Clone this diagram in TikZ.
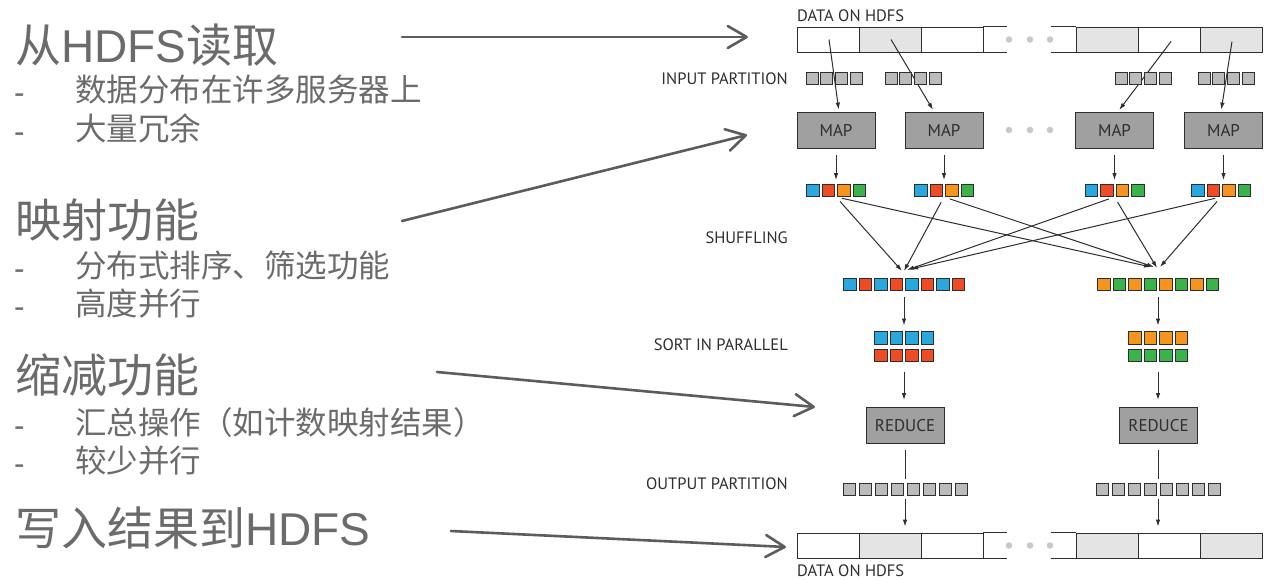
\documentclass[tikz,border=0pt]{standalone}
\usepackage{fontspec}
\setmainfont{Liberation Sans}
\newfontfamily\cjk{Noto Sans CJK SC}
\newfontfamily\diagfont{PT Sans}
\usetikzlibrary{arrows.meta}

\definecolor{leftgray}{HTML}{6B6B6B}
\definecolor{pointergray}{HTML}{5C5C5C}
\definecolor{ink}{HTML}{2E2E2E}
\definecolor{blockgray}{HTML}{E4E4E4}
\definecolor{taskgray}{HTML}{A0A0A0}
\definecolor{partgray}{HTML}{BBBBBB}
\definecolor{dotgray}{HTML}{C8C8C8}
\definecolor{kblue}{HTML}{29A8E0}
\definecolor{kred}{HTML}{EF4B24}
\definecolor{korange}{HTML}{F7941D}
\definecolor{kgreen}{HTML}{3AB34A}

\tikzset{
  heading/.style={anchor=base west, inner sep=0pt, text=leftgray,
    font=\fontsize{46}{46}\selectfont},
  bulletmark/.style={anchor=base west, inner sep=0pt, text=leftgray,
    font=\fontsize{31.5}{32}\selectfont},
  bullettext/.style={anchor=base west, inner sep=0pt, text=leftgray,
    font=\cjk\fontsize{31.5}{32}\selectfont},
  caption/.style={inner sep=0pt, text=ink, font=\diagfont\fontsize{16.5}{16.5}\selectfont},
  block/.style={draw=ink, line width=0.9pt, minimum width=62pt, minimum height=25pt, inner sep=0pt},
  task/.style={draw=ink, line width=0.9pt, fill=taskgray, minimum width=78pt, minimum height=36pt,
    inner sep=0pt, text=ink, font=\diagfont\fontsize{17}{17}\selectfont},
  cell/.style={draw=ink, line width=0.7pt, minimum size=12.5pt, inner sep=0pt},
  cellrow/.style={minimum height=12.5pt, inner sep=0pt},
  smallarrow/.style={draw=ink, line width=1pt, -{Latex[length=7pt,width=4.5pt]}},
  plainlink/.style={draw=ink, line width=1pt},
  bigarrow/.style={draw=pointergray, line width=2.6pt, line cap=round,
    -{Straight Barb[length=19pt,width=22pt,round]}},
  gapdot/.style={circle, fill=dotgray, minimum size=6.5pt, inner sep=0pt},
}

\begin{document}
\begin{tikzpicture}[x=1pt, y=-1pt]
\fill[white] (0,0) rectangle (1272,579);
\path[use as bounding box] (0,0) rectangle (1272,579);

% ---------------- left-hand outline ----------------
\node[heading] (h1) at (15,62) {{\cjk 从}HDFS{\cjk 读取}};
\node[bulletmark] (d11) at (14,103) {-};
\node[bullettext] (i11) at (75,101) {数据分布在许多服务器上};
\node[bulletmark] (d12) at (14,142) {-};
\node[bullettext] (i12) at (75,140) {大量冗余};

\node[heading] (h2) at (15,237) {\cjk 映射功能};
\node[bulletmark] (d21) at (14,279) {-};
\node[bullettext] (i21) at (75,277) {分布式排序、筛选功能};
\node[bulletmark] (d22) at (14,317) {-};
\node[bullettext] (i22) at (75,315) {高度并行};

\node[heading] (h3) at (15,392) {\cjk 缩减功能};
\node[bulletmark] (d31) at (14,436) {-};
\node[bullettext] (i31) at (75,434) {汇总操作（如计数映射结果）};
\node[bulletmark] (d32) at (14,474) {-};
\node[bullettext] (i32) at (75,472) {较少并行};

\node[heading] (h4) at (15,545) {{\cjk 写入结果到}HDFS};

% ---------------- HDFS bars (top and bottom) ----------------
\foreach \pre/\yc in {t/39.5, b/545.5} {
  \node[block] (\pre1) at (828,\yc) {};
  \node[block, fill=blockgray] (\pre2) at (890,\yc) {};
  \node[block] (\pre3) at (952,\yc) {};
  \node[block, fill=blockgray] (\pre5) at (1107,\yc) {};
  \node[block] (\pre6) at (1169,\yc) {};
  \node[block, fill=blockgray] (\pre7) at (1231,\yc) {};
  \draw[ink, line width=0.9pt]
    (\pre3.north east) -- ++(24,0) (\pre3.south east) -- ++(24,0)
    (\pre5.north west) -- ++(-25,0) (\pre5.south west) -- ++(-25,0);
  \foreach \k/\dx in {1/1009, 2/1030, 3/1050}
    \node[gapdot] (\pre-gap\k) at (\dx,\yc) {};
}

% ---------------- captions ----------------
\node[caption, anchor=west] (ctop) at (797,16) {DATA ON HDFS};
\node[caption, anchor=east] (cin) at (788,79) {INPUT PARTITION};
\node[caption, anchor=east] (cshuf) at (788,238) {SHUFFLING};
\node[caption, anchor=east] (csort) at (788,345) {SORT IN PARALLEL};
\node[caption, anchor=east] (cout) at (788,484) {OUTPUT PARTITION};
\node[caption, anchor=west] (cbot) at (797,571) {DATA ON HDFS};

% ---------------- map tasks ----------------
\node[task] (m1) at (836,130) {MAP};
\node[task] (m2) at (944,130) {MAP};
\node[task] (m3) at (1114.5,130) {MAP};
\node[task] (m4) at (1223.5,130) {MAP};
\foreach \k/\dx in {1/1009, 2/1030, 3/1050}
  \node[gapdot] (m-gap\k) at (\dx,130) {};

% blocks read into the map tasks
\draw[smallarrow, shorten >=2pt] ([xshift=1pt]t1.center) -- ([xshift=3pt]m1.north);
\draw[smallarrow, shorten >=2pt] ([xshift=1pt]t2.center) -- ([xshift=-10pt]m2.north);
\draw[smallarrow, shorten >=2pt] ([xshift=2pt,yshift=-2pt]t6.center) -- ([xshift=3.5pt]m3.north);
\draw[smallarrow, shorten >=2pt] ([xshift=1pt,yshift=-2pt]t7.center) -- ([xshift=-2.5pt]m4.north);

% input partitions
\foreach \g/\cx in {1/834, 2/913, 3/1143, 4/1226} {
  \node[cellrow, minimum width=56pt] (ip\g) at (\cx,78) {};
  \foreach \k in {1,...,4}
    \node[cell, minimum size=12pt, fill=partgray] (ip\g-\k) at ({\cx+(\k-2.5)*14.7},78) {};
}

% map output keys
\foreach \g/\cx in {1/836, 2/944, 3/1114.5, 4/1221} {
  \node[cellrow, minimum width=59pt] (g\g) at (\cx,190.5) {};
  \foreach \c [count=\k] in {kblue,kred,korange,kgreen}
    \node[cell, fill=\c] (g\g-\k) at ({\cx+(\k-2.5)*15.5},190.5) {};
}
\foreach \g in {1,...,4}
  \draw[smallarrow, shorten <=7pt, shorten >=4pt] (m\g.south) -- (m\g.south |- g\g.north);

% ---------------- shuffle ----------------
\coordinate (shl) at (904,271);
\coordinate (shr) at (1155,267);
\draw[smallarrow, shorten <=6pt] (g1.south) -- ([xshift=-2pt]shl);
\draw[smallarrow, shorten <=6pt] (g2.south) -- (shl);
\draw[smallarrow, shorten <=6pt] (g3.south) -- ([xshift=3pt,yshift=1pt]shl);
\draw[smallarrow, shorten <=6pt] (g4.south) -- ([xshift=7pt,yshift=2pt]shl);
\draw[smallarrow, shorten <=6pt] (g1.south) -- ([xshift=-4pt]shr);
\draw[smallarrow, shorten <=6pt] (g2.south) -- ([xshift=-1pt]shr);
\draw[smallarrow, shorten <=6pt] (g3.south) -- ([xshift=2pt,yshift=-1pt]shr);
\draw[smallarrow, shorten <=6pt] (g4.south) -- ([xshift=5pt]shr);

\node[cellrow, minimum width=121pt] (sl) at (904,284.5) {};
\node[cellrow, minimum width=121pt] (sr) at (1158,284.5) {};
\foreach \c [count=\k] in {kblue,kred,kblue,kred,kblue,kred,kblue,kred}
  \node[cell, fill=\c] (sl-\k) at ({904+(\k-4.5)*15.5},284.5) {};
\foreach \c [count=\k] in {korange,kgreen,korange,kgreen,korange,kgreen,korange,kgreen}
  \node[cell, fill=\c] (sr-\k) at ({1158+(\k-4.5)*15.5},284.5) {};

% ---------------- sort ----------------
\foreach \s/\cx/\ca/\cb in {l/904/kblue/kred, r/1158/korange/kgreen} {
  \node[cellrow, minimum width=59pt] (q\s1) at (\cx,338) {};
  \node[cellrow, minimum width=59pt] (q\s2) at (\cx,355.5) {};
  \foreach \k in {1,...,4} {
    \node[cell, fill=\ca] (q\s1-\k) at ({\cx+(\k-2.5)*15.5},338) {};
    \node[cell, fill=\cb] (q\s2-\k) at ({\cx+(\k-2.5)*15.5},355.5) {};
  }
}
\draw[smallarrow, shorten <=6pt, shorten >=6pt] (sl.south) -- (ql1.north);
\draw[smallarrow, shorten <=6pt, shorten >=6pt] (sr.south) -- (qr1.north);

% ---------------- reduce ----------------
\node[task] (rl) at (905,425.5) {REDUCE};
\node[task] (rr) at (1158.5,425.5) {REDUCE};
\draw[smallarrow, shorten <=10pt, shorten >=7pt] (ql2.south) -- (ql2.south |- rl.north);
\draw[smallarrow, shorten <=10pt, shorten >=7pt] (qr2.south) -- (qr2.south |- rr.north);

% ---------------- output partitions ----------------
\node[cellrow, minimum width=124pt] (ol) at (905,489) {};
\node[cellrow, minimum width=124pt] (or) at (1158,489) {};
\foreach \k in {1,...,8} {
  \node[cell, minimum size=12pt, fill=partgray] (ol-\k) at ({905+(\k-4.5)*16},489) {};
  \node[cell, minimum size=12pt, fill=partgray] (or-\k) at ({1158+(\k-4.5)*16},489) {};
}
\draw[plainlink, shorten <=6pt, shorten >=4pt] (rl.south) -- (rl.south |- ol.north);
\draw[plainlink, shorten <=6pt, shorten >=4pt] (rr.south) -- (rr.south |- or.north);
\draw[smallarrow, shorten <=4pt, shorten >=6pt] (ol.south) -- (ol.south |- b2.north);
\draw[smallarrow, shorten <=4pt, shorten >=6pt] (or.south) -- (or.south |- b6.north);

% ---------------- pointers from the outline ----------------
\coordinate (p1s) at (402,37);   \coordinate (p1e) at (748,37);
\coordinate (p2s) at (402,221);  \coordinate (p2e) at (747,135);
\coordinate (p3s) at (437,372);  \coordinate (p3e) at (815,407);
\coordinate (p4s) at (451,531);  \coordinate (p4e) at (786,547);
\draw[bigarrow] (p1s) -- (p1e);
\draw[bigarrow] (p2s) -- (p2e);
\draw[bigarrow] (p3s) -- (p3e);
\draw[bigarrow] (p4s) -- (p4e);
\end{tikzpicture}
\end{document}
